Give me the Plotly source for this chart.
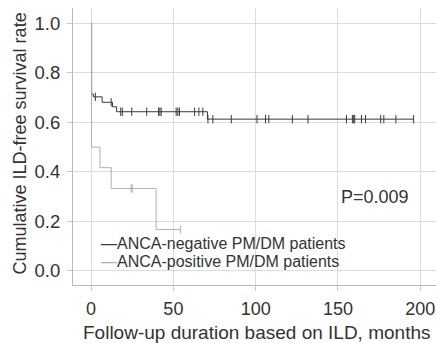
import plotly.graph_objects as go
import numpy as np

# ANCA-negative group: step times (months) and survival after each step
neg_times = [0, 0.3, 1.4, 6.7, 13.0, 15.5, 70.7, 196.0]
neg_surv = [1.0, 0.714, 0.703, 0.681, 0.663, 0.643, 0.613, 0.613]
neg_censor = [2.6, 12.2, 18.0, 19.0, 24.7, 33.8, 41.0, 41.8, 42.6, 51.7, 52.7, 53.7,
              62.9, 65.5, 67.9, 71.0, 74.0, 85.2, 100.8, 106.0, 108.0, 122.3, 131.8,
              155.2, 158.8, 159.6, 160.2, 164.3, 166.8, 176.0, 177.9, 185.2, 196.0]

# ANCA-positive group
pos_times = [0, 0.3, 5.4, 12.2, 39.5, 54.4]
pos_surv = [1.0, 0.5, 0.417, 0.333, 0.167, 0.167]
pos_censor = [24.3, 25.0, 54.4]

p_text = "P=0.009"
legend_labels = ["ANCA-negative PM/DM patients", "ANCA-positive PM/DM patients"]
x_ticks = [0, 50, 100, 150, 200]
y_ticks = [0.0, 0.2, 0.4, 0.6, 0.8, 1.0]
x_title = "Follow-up duration based on ILD, months"
y_title = "Cumulative ILD-free survival rate"

NEG_C = "#3a3a3a"
POS_C = "#b0b0b0"
TXT_C = "#333333"


def surv_at(times, surv, t):
    idx = np.searchsorted(times, t, side="right") - 1
    return surv[max(idx, 0)]


fig = go.Figure()
fig.add_trace(go.Scatter(x=neg_times, y=neg_surv, mode="lines", line_shape="hv",
                         line=dict(color=NEG_C, width=1), showlegend=False))
fig.add_trace(go.Scatter(x=pos_times, y=pos_surv, mode="lines", line_shape="hv",
                         line=dict(color=POS_C, width=1), showlegend=False))
fig.add_trace(go.Scatter(x=neg_censor, y=[surv_at(neg_times, neg_surv, t) for t in neg_censor],
                         mode="markers", marker=dict(symbol="line-ns", size=6,
                         line=dict(color=NEG_C, width=1)), showlegend=False))
fig.add_trace(go.Scatter(x=pos_censor, y=[surv_at(pos_times, pos_surv, t) for t in pos_censor],
                         mode="markers", marker=dict(symbol="line-ns", size=6,
                         line=dict(color=POS_C, width=1)), showlegend=False))

font_fam = "Liberation Sans, Arial, sans-serif"
fig.add_annotation(x=0.93, xref="paper", y=0.299, yref="y", text=p_text, showarrow=False,
                   xanchor="right", yanchor="middle", font=dict(size=18, color=TXT_C))
fig.add_annotation(x=5, xref="x", y=0.111, yref="y",
                   text=f"<span style='color:{NEG_C}'>—</span>{legend_labels[0]}",
                   showarrow=False, xanchor="left", yanchor="middle",
                   font=dict(size=16, color=TXT_C))
fig.add_annotation(x=5, xref="x", y=0.037, yref="y",
                   text=f"<span style='color:{POS_C}'>—</span>{legend_labels[1]}",
                   showarrow=False, xanchor="left", yanchor="middle",
                   font=dict(size=16, color=TXT_C))
# axis titles
fig.add_annotation(x=(20 - 73) / 363, xref="paper", y=0.511, yref="paper", text=y_title,
                   textangle=-90, showarrow=False, xanchor="center", yanchor="middle",
                   font=dict(size=18, color=TXT_C))
fig.add_annotation(x=0.5055, xref="paper", y=-0.173, yref="paper", text=x_title,
                   showarrow=False, xanchor="center", yanchor="middle",
                   font=dict(size=19, color=TXT_C))

fig.update_layout(
    width=436, height=343,
    margin=dict(l=73, r=0, t=8, b=58),
    plot_bgcolor="white", paper_bgcolor="white",
    font=dict(family=font_fam, color=TXT_C, size=18),
    xaxis=dict(range=[-11, 209.6], tickvals=x_ticks, ticktext=[str(v) for v in x_ticks],
               showgrid=True, gridcolor="#dcdcdc", gridwidth=1, zeroline=False,
               showline=True, linecolor="#b8b8b8", ticks="outside", ticklen=5,
               tickcolor="#c8c8c8", tickfont=dict(size=18), automargin=False,
               ticklabelstandoff=2),
    yaxis=dict(range=[-0.057, 1.062], tickvals=y_ticks, ticktext=[f"{v:.1f}" for v in y_ticks],
               showgrid=True, gridcolor="#dcdcdc", gridwidth=1, zeroline=False,
               showline=True, linecolor="#b8b8b8", ticks="outside", ticklen=5,
               tickcolor="#c8c8c8", tickfont=dict(size=18.5), automargin=False,
               ticklabelstandoff=3),
)

fig.write_html("out.html", config={"displayModeBar": False},
               post_script="document.body.style.margin='0';document.body.style.overflow='hidden';")
